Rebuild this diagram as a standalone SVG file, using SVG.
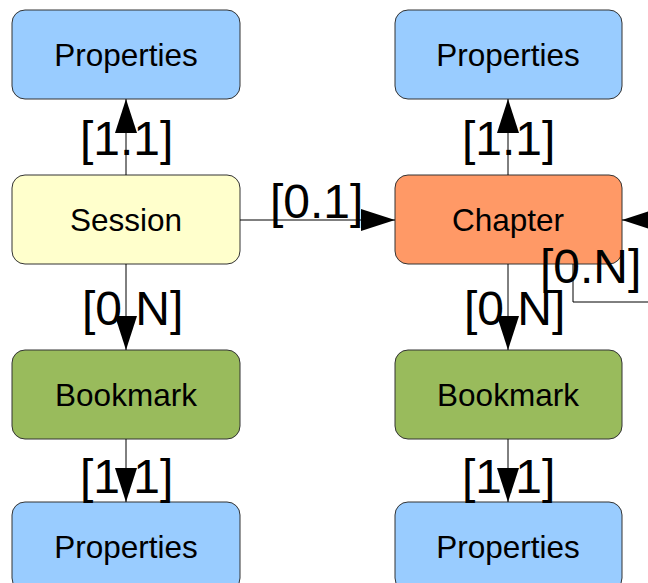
<svg xmlns="http://www.w3.org/2000/svg" width="648" height="583" viewBox="0 0 648 583">
<style>
.box{stroke:#333;stroke-width:1}
.prop{fill:#99ccff}
.sess{fill:#ffffcc}
.chap{fill:#ff9966}
.book{fill:#99bb5c}
.t{font-family:"Liberation Sans",Arial,sans-serif;font-size:31.5px;fill:#000;text-anchor:middle}
.lbl{font-family:"Liberation Sans",Arial,sans-serif;font-size:48px;fill:#000}
.ln{stroke:#000;stroke-width:1;fill:none}
</style>
<defs>
<marker id="ah" viewBox="0 0 34 22" refX="34" refY="11" markerWidth="34" markerHeight="22" markerUnits="userSpaceOnUse" orient="auto">
<path d="M0,0 L34,11 L0,22 Z" fill="#000"/>
</marker>
</defs>
<rect width="648" height="583" fill="#fff"/>
<g id="props-top-left"><rect class="box prop" x="12" y="10" width="228" height="89" rx="13"/><text class="t" x="126" y="66">Properties</text></g>
<g id="session"><rect class="box sess" x="12" y="175" width="228" height="89" rx="13"/><text class="t" x="126" y="231">Session</text></g>
<g id="bookmark-left"><rect class="box book" x="12" y="350" width="228" height="89" rx="13"/><text class="t" x="126" y="406">Bookmark</text></g>
<g id="props-bottom-left"><rect class="box prop" x="12" y="502" width="228" height="89" rx="13"/><text class="t" x="126" y="558">Properties</text></g>
<g id="props-top-right"><rect class="box prop" x="395" y="10" width="227" height="89" rx="13"/><text class="t" x="508" y="66">Properties</text></g>
<g id="chapter"><rect class="box chap" x="395" y="175" width="227" height="89" rx="13"/><text class="t" x="508" y="231">Chapter</text></g>
<g id="bookmark-right"><rect class="box book" x="395" y="350" width="227" height="89" rx="13"/><text class="t" x="508" y="406">Bookmark</text></g>
<g id="props-bottom-right"><rect class="box prop" x="395" y="502" width="227" height="89" rx="13"/><text class="t" x="508" y="558">Properties</text></g>
<g id="labels">
<text class="lbl" x="80" y="155">[1.1]</text>
<text class="lbl" x="82" y="325">[0.N]</text>
<text class="lbl" x="80" y="493">[1.1]</text>
<text class="lbl" x="270" y="218">[0.1]</text>
<text class="lbl" x="462" y="155">[1.1]</text>
<text class="lbl" x="464" y="325">[0.N]</text>
<text class="lbl" x="462" y="493">[1.1]</text>
<text class="lbl" x="540" y="283">[0.N]</text>
</g>
<g id="connectors">
<line class="ln" x1="126" y1="175" x2="126" y2="99" marker-end="url(#ah)"/>
<line class="ln" x1="126" y1="264" x2="126" y2="350" marker-end="url(#ah)"/>
<line class="ln" x1="126" y1="439" x2="126" y2="502" marker-end="url(#ah)"/>
<line class="ln" x1="240" y1="220" x2="395" y2="220" marker-end="url(#ah)"/>
<line class="ln" x1="508" y1="175" x2="508" y2="99" marker-end="url(#ah)"/>
<line class="ln" x1="508" y1="264" x2="508" y2="350" marker-end="url(#ah)"/>
<line class="ln" x1="508" y1="439" x2="508" y2="502" marker-end="url(#ah)"/>
<polyline class="ln" points="573,264 573,302 680,302 680,220 622,220" marker-end="url(#ah)"/>
</g>
</svg>
